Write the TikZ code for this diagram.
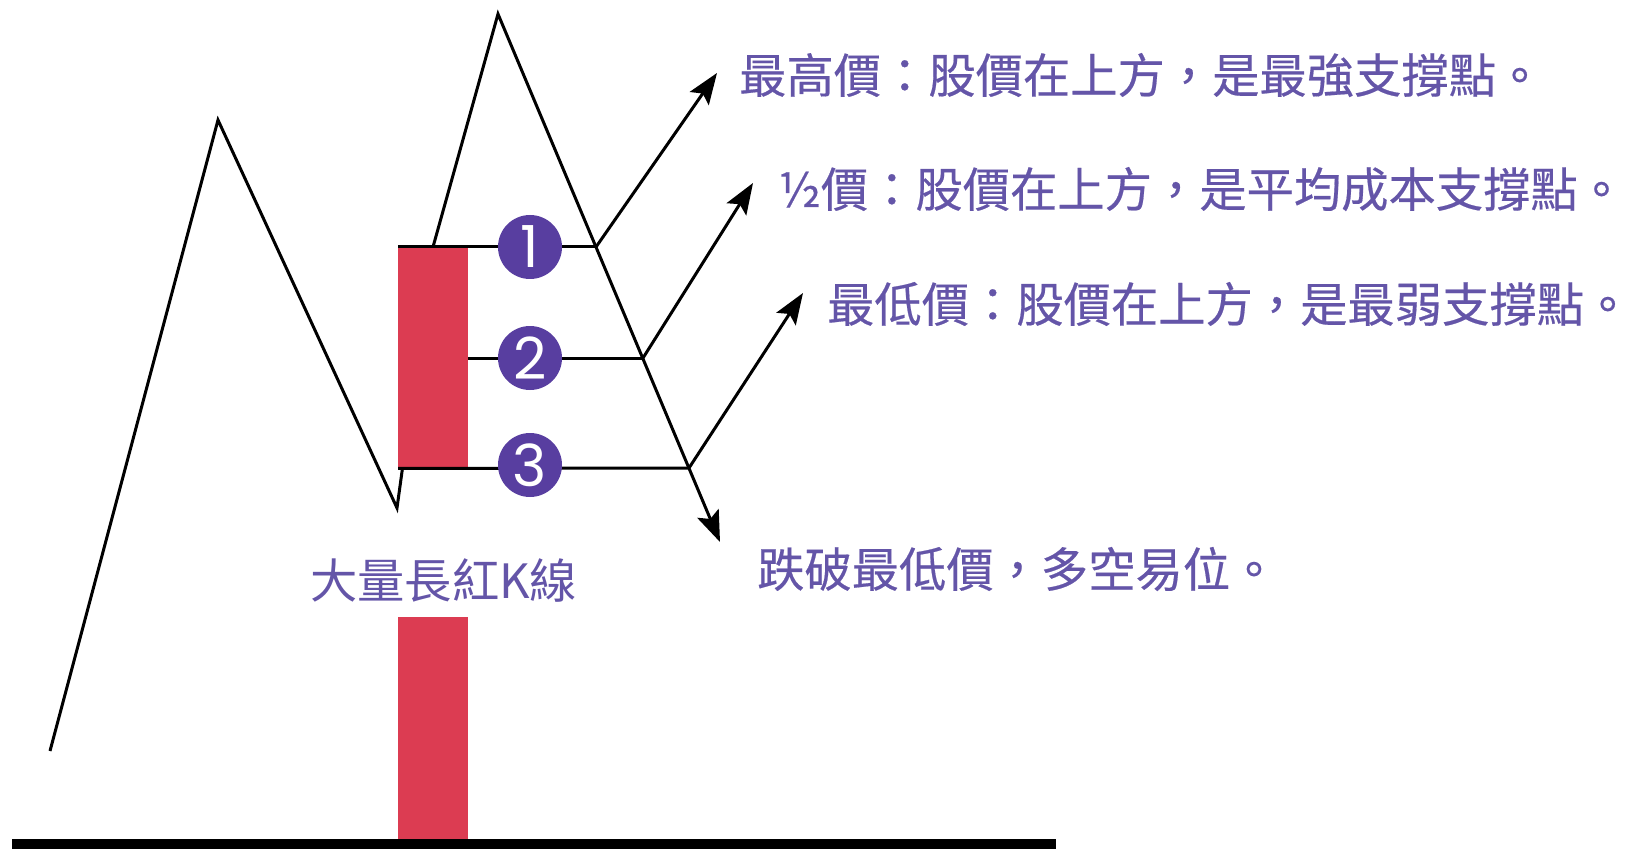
\documentclass[tikz,border=0pt]{standalone}
\usepackage{fontspec}
\newfontfamily\cjk[FakeBold=0.4]{Noto Sans CJK TC}
\newfontfamily\cjklight{Noto Sans CJK TC}
\newfontfamily\digitfont{Poppins}
\usetikzlibrary{arrows.meta}
\definecolor{kred}{RGB}{220,60,82}
\definecolor{kpurple}{RGB}{88,62,160}
\definecolor{ktext}{RGB}{100,85,168}
\begin{document}
\begin{tikzpicture}[x=1pt,y=-1pt,
  blk/.style={line width=3pt, black},
  arr/.style={blk, -{Stealth[length=31pt,width=23pt,inset=6pt]}},
  num/.style={circle, fill=kpurple, minimum size=64pt, inner sep=0pt, text=white, font=\digitfont\fontsize{58}{58}\selectfont},
  lbl/.style={anchor=base west, inner sep=0pt, text=ktext, font=\cjk\fontsize{47.3}{47.3}\selectfont},
  bar/.style={fill=kred, inner sep=0pt, anchor=north west, minimum width=70pt}
]
\useasboundingbox (0,0) rectangle (1631,853);
% price path
\coordinate (s0) at (50,751);
\coordinate (pk1) at (218,120);
\coordinate (v1) at (397,508);
\coordinate (rt) at (433,247);
\coordinate (pk2) at (498,14);
\coordinate (e) at (720,542);
\coordinate (h1) at (596,247);
\coordinate (h2) at (643,358);
\coordinate (h3) at (689,468);
\coordinate (a1) at (717,73);
\coordinate (a2) at (753,183);
\coordinate (a3) at (803,293);
\coordinate (g0) at (12,844);
\coordinate (g1) at (1056,844);
\draw[arr, line join=miter] (s0) -- (pk1) -- (v1) -- (rt) -- (pk2) -- (e);
% candle
\node[bar, minimum height=221pt] (candle) at (398,247) {};
\draw[blk] (candle.north west) -- (h1);
\draw[blk] (candle.east |- h2) -- (h2);
\draw[blk] (candle.south west) -- (h3);
\node[num] (c1) at (530,247) {1};
\node[num] (c2) at (530,358) {2};
\node[num] (c3) at (530,465) {3};
\draw[arr] (h1) -- (a1);
\draw[arr] (h2) -- (a2);
\draw[arr] (h3) -- (a3);
% volume
\node[bar, minimum height=227pt] (vol) at (398,617) {};
\draw[line width=10pt] (g0) -- (g1);
% labels
\node[lbl] (t1) at (739,93) {最高價：股價在上方，是最強支撐點。};
\node[lbl] (t2) at (778,207) {½價：股價在上方，是平均成本支撐點。};
\node[lbl] (t3) at (827,322) {最低價：股價在上方，是最弱支撐點。};
\node[lbl] (t4) at (757,587) {跌破最低價，多空易位。};
\node[lbl, font=\cjklight\fontsize{47.3}{47.3}\selectfont] (k) at (310,598) {大量長紅K線};
\end{tikzpicture}
\end{document}
